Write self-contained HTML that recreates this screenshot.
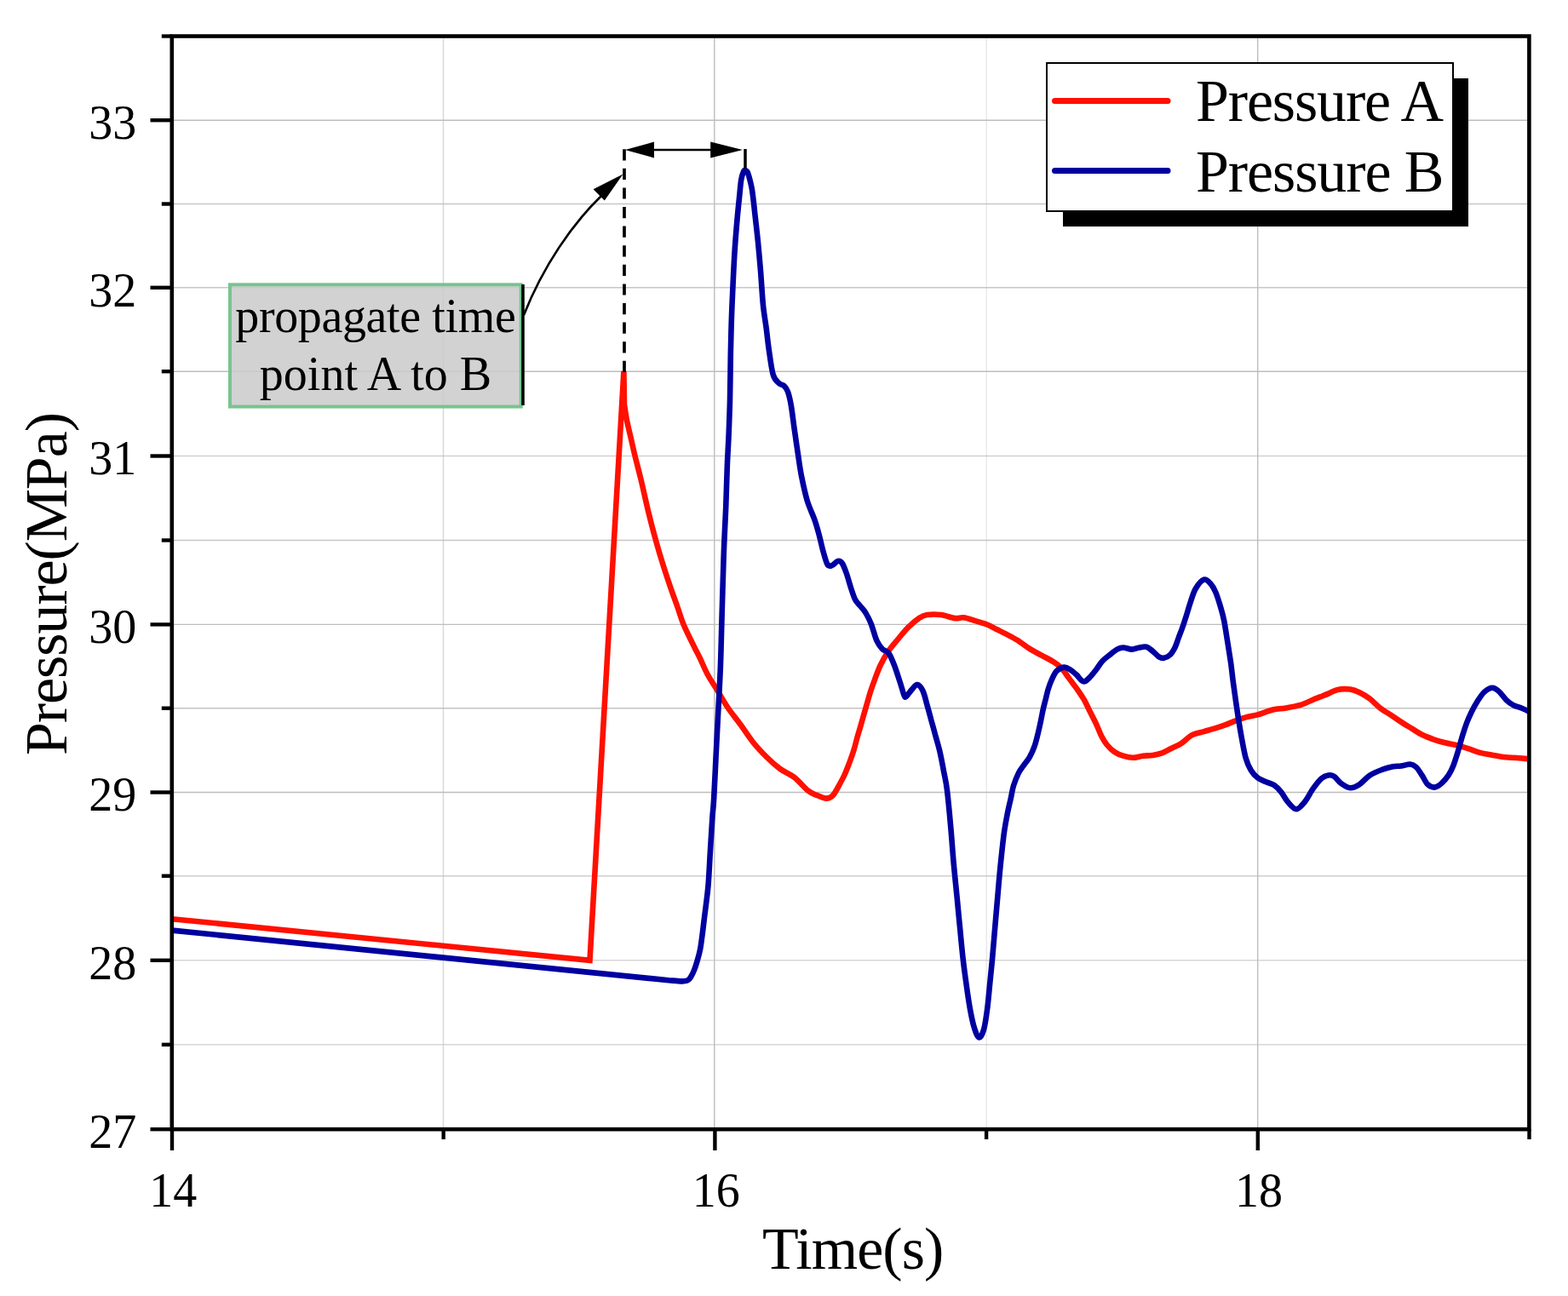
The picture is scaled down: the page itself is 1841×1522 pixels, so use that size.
<!DOCTYPE html><html><head><meta charset="utf-8"><title>Pressure chart</title><style>html,body{margin:0;padding:0;background:#fff;width:1841px;height:1522px;overflow:hidden}svg{display:block}</style></head><body>
<svg width="1841" height="1522" viewBox="0 0 1841 1522" font-family="'Liberation Serif','Times New Roman',serif">
<defs><clipPath id="plot"><rect x="202" y="42.5" width="1593.5" height="1284"/></clipPath></defs>
<rect width="1841" height="1522" fill="#fff"/>
<g stroke="#BDBDBD" stroke-width="1.4" fill="none"><line x1="204" x2="1793" y1="1226.8" y2="1226.8" stroke-opacity="0.60"/><line x1="204" x2="1793" y1="1127.8" y2="1127.8" stroke-opacity="0.60"/><line x1="204" x2="1793" y1="1028.7" y2="1028.7" stroke-opacity="0.75"/><line x1="204" x2="1793" y1="930.5" y2="930.5" stroke-opacity="1.00"/><line x1="204" x2="1793" y1="831.7" y2="831.7" stroke-opacity="0.90"/><line x1="204" x2="1793" y1="733.4" y2="733.4" stroke-opacity="1.00"/><line x1="204" x2="1793" y1="634.5" y2="634.5" stroke-opacity="0.85"/><line x1="204" x2="1793" y1="535.5" y2="535.5" stroke-opacity="0.70"/><line x1="204" x2="1793" y1="436.2" y2="436.2" stroke-opacity="1.00"/><line x1="204" x2="1793" y1="337.8" y2="337.8" stroke-opacity="0.85"/><line x1="204" x2="1793" y1="239.5" y2="239.5" stroke-opacity="0.85"/><line x1="204" x2="1793" y1="141.2" y2="141.2" stroke-opacity="1.00"/><line y1="45" y2="1324" x1="520.5" x2="520.5" stroke-opacity="0.60"/><line y1="45" y2="1324" x1="838.8" x2="838.8" stroke-opacity="1.00"/><line y1="45" y2="1324" x1="1158.3" x2="1158.3" stroke-opacity="0.35"/><line y1="45" y2="1324" x1="1476.7" x2="1476.7" stroke-opacity="1.00"/></g>
<rect x="270" y="334.3" width="341.8" height="143.3" fill="#CACACA" fill-opacity="0.85" stroke="#78C48F" stroke-width="4"/>
<line x1="614" y1="334" x2="614" y2="476" stroke="#000" stroke-width="3.6"/>
<text x="441" y="390.4" font-size="56" text-anchor="middle" textLength="329.5" lengthAdjust="spacing">propagate time</text>
<text x="441" y="458.3" font-size="56" text-anchor="middle">point A to B</text>
<g clip-path="url(#plot)" fill="none" stroke-width="6.6" stroke-linejoin="miter" stroke-miterlimit="4">
<path d="M202,1079.2 L692.5,1127.8 L732.4,436 L733.0,475.0 C733.5,478.2 734.9,488.1 736.1,494.2 C737.3,500.2 738.4,504.5 740.0,511.3 C741.6,518.1 743.4,526.7 745.5,535.2 C747.6,543.8 749.8,551.8 752.4,562.6 C755.0,573.4 758.1,588.0 761.0,600.0 C763.9,612.0 767.1,624.2 770.0,634.7 C772.9,645.2 775.2,653.0 778.4,663.0 C781.5,673.0 786.0,686.3 788.9,694.6 C791.8,702.9 793.2,706.5 795.5,713.0 C797.8,719.5 799.5,726.0 802.6,733.5 C805.7,741.0 811.0,751.2 814.1,757.7 C817.2,764.2 818.7,766.6 821.5,772.3 C824.3,778.0 827.4,785.9 830.7,792.0 C834.0,798.1 837.2,802.6 841.2,809.1 C845.2,815.6 849.8,824.0 854.5,831.0 C859.2,838.0 864.6,844.2 869.5,851.0 C874.4,857.8 879.0,865.2 884.0,871.5 C889.0,877.8 894.2,883.2 899.5,888.5 C904.8,893.8 910.5,898.9 916.0,903.0 C921.5,907.1 927.1,908.6 932.6,912.9 C938.1,917.2 944.5,925.2 948.9,928.7 C953.3,932.2 955.8,932.5 959.3,934.0 C962.8,935.5 966.9,937.6 970.0,937.6 C973.1,937.6 975.2,937.1 978.0,934.0 C980.8,930.9 984.6,923.2 986.9,919.0 C989.2,914.8 990.2,913.1 992.0,909.0 C993.8,904.9 996.0,899.1 997.8,894.4 C999.5,889.7 1001.1,885.4 1002.5,880.8 C1003.9,876.2 1005.0,871.4 1006.2,867.0 C1007.4,862.6 1008.2,860.3 1009.9,854.5 C1011.6,848.7 1014.3,838.9 1016.3,832.0 C1018.3,825.1 1020.0,818.9 1021.8,813.1 C1023.6,807.3 1025.3,802.6 1027.3,797.3 C1029.3,792.0 1031.1,786.8 1033.6,781.5 C1036.1,776.2 1038.8,771.0 1042.3,765.8 C1045.8,760.5 1050.9,754.8 1054.9,750.0 C1058.9,745.2 1062.1,740.8 1066.2,736.8 C1070.3,732.8 1075.7,728.3 1079.4,725.8 C1083.1,723.3 1084.2,722.6 1088.5,722.0 C1092.8,721.4 1099.4,721.3 1104.9,722.0 C1110.4,722.7 1117.0,725.6 1121.4,726.1 C1125.8,726.6 1127.1,724.8 1131.2,725.3 C1135.3,725.8 1141.3,728.0 1146.0,729.4 C1150.7,730.8 1155.0,731.9 1159.1,733.5 C1163.2,735.1 1167.0,737.5 1170.6,739.3 C1174.2,741.1 1176.5,742.1 1180.5,744.2 C1184.5,746.3 1189.8,748.8 1194.5,751.8 C1199.2,754.8 1204.1,758.9 1208.9,761.9 C1213.7,764.9 1218.6,767.2 1223.4,769.9 C1228.2,772.5 1234.0,775.3 1237.8,777.8 C1241.6,780.3 1243.6,781.9 1246.5,785.0 C1249.4,788.1 1252.3,792.7 1255.2,796.6 C1258.1,800.5 1260.9,804.1 1263.8,808.2 C1266.7,812.3 1269.8,816.6 1272.5,821.2 C1275.2,825.8 1277.3,830.8 1279.7,835.6 C1282.1,840.4 1284.8,845.4 1287.0,850.1 C1289.2,854.8 1290.9,859.9 1293.0,864.0 C1295.1,868.1 1296.9,871.3 1299.5,874.5 C1302.1,877.7 1305.3,880.8 1308.5,883.0 C1311.7,885.2 1315.2,886.6 1318.8,887.7 C1322.4,888.8 1326.4,889.8 1330.3,889.8 C1334.2,889.8 1338.0,888.2 1341.9,887.7 C1345.8,887.2 1349.7,887.6 1353.5,887.0 C1357.3,886.4 1361.4,885.4 1365.0,884.1 C1368.6,882.8 1371.5,880.8 1375.1,879.0 C1378.7,877.2 1382.6,875.9 1386.7,873.2 C1390.8,870.6 1395.2,865.5 1399.7,863.1 C1404.2,860.8 1408.9,860.4 1413.5,859.1 C1418.1,857.8 1423.0,856.5 1427.3,855.2 C1431.6,853.9 1435.1,852.7 1439.1,851.2 C1443.0,849.7 1447.0,847.8 1451.0,846.3 C1455.0,844.8 1458.5,843.5 1462.8,842.4 C1467.1,841.2 1471.3,840.9 1476.6,839.4 C1481.9,837.9 1488.8,834.8 1494.4,833.5 C1500.0,832.2 1504.5,832.5 1510.1,831.5 C1515.7,830.5 1522.6,829.2 1527.9,827.6 C1533.2,826.0 1538.0,823.2 1541.7,821.7 C1545.4,820.2 1547.0,819.6 1550.0,818.4 C1553.0,817.2 1556.1,816.0 1559.5,814.6 C1562.9,813.2 1566.1,810.7 1570.4,809.9 C1574.7,809.1 1581.0,809.0 1585.3,809.6 C1589.6,810.2 1592.3,811.4 1596.2,813.3 C1600.1,815.1 1604.3,817.7 1608.4,820.7 C1612.5,823.8 1616.3,828.3 1620.6,831.6 C1624.9,834.9 1630.1,837.7 1634.2,840.4 C1638.3,843.1 1641.2,845.4 1645.1,847.9 C1648.9,850.4 1653.2,852.9 1657.3,855.4 C1661.4,857.9 1665.2,860.6 1669.5,862.8 C1673.8,864.9 1678.6,866.7 1683.1,868.3 C1687.6,869.9 1692.2,871.2 1696.7,872.3 C1701.2,873.4 1705.7,874.0 1710.2,875.1 C1714.7,876.2 1719.3,877.6 1723.8,879.1 C1728.3,880.6 1732.9,882.6 1737.4,883.9 C1741.9,885.1 1746.0,885.7 1751.0,886.6 C1756.0,887.5 1762.3,888.7 1767.3,889.3 C1772.3,889.9 1776.2,889.6 1780.9,890.0 C1785.6,890.4 1793.1,891.2 1795.5,891.4" stroke="#FF1000"/>
<path d="M202,1092.6 L785.0,1151.2 C786.8,1151.3 793.0,1151.9 796.0,1152.1 C799.0,1152.3 801.1,1152.4 803.0,1152.3 C804.9,1152.2 806.2,1152.1 807.5,1151.3 C808.8,1150.5 809.8,1149.5 811.0,1147.5 C812.2,1145.5 813.7,1142.7 815.0,1139.4 C816.3,1136.1 817.7,1131.6 818.9,1127.5 C820.1,1123.4 821.2,1119.6 822.1,1114.9 C823.0,1110.2 823.6,1105.0 824.4,1099.1 C825.2,1093.2 826.1,1085.3 826.8,1079.4 C827.5,1073.5 828.0,1070.3 828.8,1063.7 C829.6,1057.1 830.6,1050.6 831.5,1040.0 C832.4,1029.4 833.1,1013.3 833.9,1000.0 C834.7,986.7 835.7,970.2 836.4,960.0 C837.1,949.8 837.4,951.0 838.1,939.0 C838.8,927.0 839.8,905.1 840.6,888.0 C841.5,870.9 842.3,853.7 843.2,836.6 C844.1,819.5 845.1,802.5 845.8,785.4 C846.5,768.3 846.8,751.2 847.3,734.0 C847.8,716.8 848.3,697.8 848.8,682.0 C849.3,666.2 849.6,653.5 850.2,639.3 C850.8,625.1 851.6,612.2 852.2,596.6 C852.8,581.0 853.3,559.6 853.9,545.4 C854.5,531.2 855.1,523.8 855.6,511.2 C856.1,498.6 856.6,485.8 857.0,470.0 C857.4,454.2 857.5,432.1 857.8,416.6 C858.1,401.1 858.4,390.3 858.8,377.2 C859.2,364.1 859.8,350.9 860.4,337.8 C861.0,324.7 861.6,311.5 862.4,298.3 C863.2,285.1 864.4,270.4 865.4,258.9 C866.4,247.4 867.5,237.3 868.3,229.3 C869.1,221.3 869.5,215.5 870.3,210.8 C871.1,206.1 872.4,203.0 873.2,201.2 C874.0,199.4 874.5,200.1 875.2,200.2 C875.9,200.2 876.6,200.4 877.3,201.5 C878.0,202.6 878.2,202.8 879.2,206.5 C880.2,210.2 882.0,216.3 883.1,223.4 C884.2,230.5 885.0,238.8 886.1,249.0 C887.2,259.2 888.9,273.0 890.0,284.5 C891.1,296.0 892.0,305.8 893.0,318.0 C894.0,330.2 894.8,346.0 895.9,357.5 C897.0,369.0 898.8,378.1 899.9,387.0 C901.0,395.9 901.5,401.8 902.8,410.7 C904.1,419.6 905.8,433.7 907.8,440.3 C909.8,446.9 912.6,448.1 914.7,450.2 C916.8,452.3 918.9,451.5 920.6,453.1 C922.3,454.7 923.6,456.0 925.0,460.0 C926.4,464.0 927.8,470.0 929.0,477.1 C930.2,484.2 931.2,493.6 932.5,502.7 C933.8,511.8 935.3,522.3 936.7,531.7 C938.1,541.1 939.1,549.6 941.0,559.0 C942.9,568.4 945.2,579.6 947.8,588.1 C950.4,596.6 954.1,603.8 956.4,610.3 C958.7,616.8 959.8,621.0 961.5,627.3 C963.2,633.5 964.9,641.8 966.6,647.8 C968.3,653.8 970.0,660.5 971.7,663.2 C973.4,665.9 974.9,664.7 976.9,664.0 C978.9,663.3 981.7,659.3 983.7,658.9 C985.7,658.5 987.1,659.1 988.8,661.5 C990.5,663.9 992.2,668.7 993.9,673.5 C995.6,678.3 997.4,685.4 999.1,690.5 C1000.8,695.6 1002.2,700.5 1004.0,704.0 C1005.8,707.5 1007.7,708.7 1009.7,711.3 C1011.8,713.9 1014.1,716.0 1016.3,719.6 C1018.5,723.2 1020.6,727.2 1022.8,732.7 C1025.0,738.2 1027.2,747.5 1029.4,752.4 C1031.6,757.3 1033.7,759.7 1036.0,762.2 C1038.3,764.7 1041.1,763.9 1043.5,767.2 C1045.9,770.5 1048.1,776.2 1050.3,782.0 C1052.5,787.8 1055.0,796.0 1056.9,801.7 C1058.8,807.4 1060.3,813.7 1061.5,816.4 C1062.7,819.1 1062.4,819.2 1063.9,818.1 C1065.4,817.0 1068.3,812.2 1070.5,809.9 C1072.7,807.6 1074.8,803.8 1077.0,804.1 C1079.2,804.4 1081.7,807.5 1083.6,811.5 C1085.5,815.5 1086.9,822.1 1088.5,827.9 C1090.1,833.6 1091.8,840.0 1093.4,846.0 C1095.1,852.0 1096.8,858.1 1098.4,864.1 C1100.1,870.1 1101.7,875.0 1103.3,882.1 C1104.9,889.2 1106.8,899.0 1108.2,906.7 C1109.7,914.4 1110.7,917.4 1112.0,928.1 C1113.3,938.8 1115.0,957.0 1116.2,970.9 C1117.5,984.8 1118.3,998.0 1119.5,1011.6 C1120.7,1025.2 1122.3,1040.4 1123.5,1052.3 C1124.7,1064.2 1125.2,1071.0 1126.4,1082.9 C1127.6,1094.8 1129.1,1111.7 1130.4,1123.6 C1131.7,1135.5 1132.9,1143.9 1134.3,1154.1 C1135.7,1164.3 1137.3,1175.8 1138.9,1184.6 C1140.5,1193.4 1142.1,1201.3 1143.9,1207.0 C1145.7,1212.7 1147.6,1218.2 1149.5,1218.5 C1151.4,1218.8 1153.5,1214.7 1155.1,1209.0 C1156.7,1203.3 1158.0,1193.8 1159.2,1184.6 C1160.4,1175.4 1161.3,1164.3 1162.3,1154.1 C1163.3,1143.9 1164.3,1134.8 1165.3,1123.6 C1166.3,1112.4 1167.4,1098.8 1168.4,1086.9 C1169.4,1075.0 1170.4,1063.8 1171.4,1052.3 C1172.4,1040.8 1173.3,1029.6 1174.5,1017.7 C1175.7,1005.8 1177.2,991.3 1178.5,981.1 C1179.8,970.9 1181.3,963.6 1182.6,956.6 C1183.9,949.6 1185.2,944.7 1186.5,939.0 C1187.8,933.3 1188.5,927.6 1190.1,922.4 C1191.7,917.2 1194.0,911.8 1195.9,907.9 C1197.8,904.0 1199.5,902.3 1201.7,899.2 C1203.9,896.1 1206.7,893.0 1208.9,889.1 C1211.1,885.2 1213.0,880.9 1214.7,876.1 C1216.4,871.3 1217.8,865.0 1219.0,860.2 C1220.2,855.4 1220.9,851.8 1221.9,847.2 C1222.9,842.6 1223.8,837.0 1224.8,832.7 C1225.8,828.4 1226.7,825.1 1227.7,821.2 C1228.7,817.4 1229.4,813.5 1230.6,809.6 C1231.8,805.8 1233.2,801.7 1234.9,798.1 C1236.6,794.5 1238.3,790.3 1240.7,787.9 C1243.1,785.5 1246.8,783.8 1249.4,783.6 C1252.1,783.4 1254.2,785.0 1256.6,786.5 C1259.0,788.0 1261.6,790.2 1263.8,792.3 C1266.0,794.3 1267.9,797.5 1269.6,798.8 C1271.3,800.1 1272.3,800.8 1274.0,800.2 C1275.7,799.6 1277.5,797.5 1279.7,795.2 C1281.9,792.9 1284.6,789.6 1287.0,786.5 C1289.4,783.4 1291.5,779.3 1294.2,776.4 C1296.9,773.5 1300.0,771.4 1302.9,769.1 C1305.8,766.8 1308.8,764.0 1311.5,762.6 C1314.2,761.2 1315.9,760.5 1318.8,760.5 C1321.7,760.5 1325.8,762.6 1328.9,762.6 C1332.0,762.6 1334.7,761.0 1337.6,760.5 C1340.5,760.0 1343.5,759.1 1346.2,759.8 C1348.9,760.5 1351.1,762.9 1353.5,764.8 C1355.9,766.7 1358.5,770.0 1360.7,771.3 C1362.9,772.6 1364.3,773.2 1366.5,772.8 C1368.7,772.4 1371.5,771.1 1373.7,769.1 C1375.9,767.1 1377.8,763.9 1379.5,760.5 C1381.2,757.1 1382.3,752.8 1383.8,748.9 C1385.2,745.0 1386.8,741.4 1388.2,737.3 C1389.7,733.2 1390.9,729.3 1392.5,724.3 C1394.1,719.3 1395.8,712.8 1397.7,707.3 C1399.6,701.8 1401.1,695.9 1403.7,691.5 C1406.3,687.1 1410.5,681.7 1413.5,680.7 C1416.5,679.7 1419.1,683.1 1421.4,685.6 C1423.7,688.1 1425.3,690.9 1427.3,695.5 C1429.3,700.1 1431.5,707.6 1433.2,713.2 C1434.9,718.8 1435.9,722.4 1437.2,729.0 C1438.5,735.6 1439.8,744.5 1441.1,752.7 C1442.4,760.9 1443.9,770.1 1445.1,778.3 C1446.2,786.5 1447.0,794.5 1448.0,802.0 C1449.0,809.5 1450.0,816.7 1451.0,823.6 C1452.0,830.5 1452.8,836.2 1453.9,843.4 C1455.1,850.6 1456.4,859.1 1457.9,867.0 C1459.4,874.9 1461.0,884.5 1462.8,890.7 C1464.6,897.0 1466.4,900.7 1468.7,904.5 C1471.0,908.3 1473.6,911.1 1476.6,913.4 C1479.6,915.7 1483.2,916.8 1486.5,918.3 C1489.8,919.8 1493.3,920.2 1496.3,922.2 C1499.2,924.2 1501.6,926.8 1504.2,930.1 C1506.8,933.4 1509.1,938.5 1512.1,941.9 C1515.1,945.2 1518.7,950.2 1522.0,950.2 C1525.3,950.2 1528.5,945.9 1531.8,941.9 C1535.1,937.9 1538.4,930.8 1541.7,926.2 C1545.0,921.6 1548.5,916.9 1551.5,914.3 C1554.5,911.7 1557.0,910.8 1559.5,910.4 C1562.0,910.0 1563.8,910.1 1566.3,911.7 C1568.8,913.3 1571.2,917.6 1574.4,919.9 C1577.6,922.2 1581.7,925.1 1585.3,925.3 C1588.9,925.5 1592.3,923.7 1596.2,921.2 C1600.1,918.7 1603.9,913.3 1608.4,910.4 C1612.9,907.5 1618.8,905.3 1623.3,903.6 C1627.8,901.9 1631.9,900.9 1635.5,900.2 C1639.1,899.5 1641.7,900.0 1645.1,899.5 C1648.5,899.0 1653.0,897.3 1655.9,897.5 C1658.8,897.7 1660.4,898.8 1662.7,900.9 C1665.0,903.0 1667.2,907.0 1669.5,910.4 C1671.8,913.8 1673.8,918.8 1676.3,921.2 C1678.8,923.6 1681.7,924.8 1684.4,924.6 C1687.1,924.4 1689.9,922.3 1692.6,919.9 C1695.3,917.5 1698.4,913.8 1700.7,910.4 C1703.0,907.0 1704.4,904.0 1706.2,899.5 C1708.0,895.0 1709.8,889.1 1711.6,883.2 C1713.4,877.3 1715.2,870.1 1717.0,864.2 C1718.8,858.3 1720.7,852.6 1722.5,847.9 C1724.3,843.1 1725.9,839.8 1727.9,835.7 C1729.9,831.6 1732.2,827.4 1734.7,823.5 C1737.2,819.6 1739.9,815.2 1742.8,812.6 C1745.7,810.0 1749.3,807.8 1752.3,807.8 C1755.2,807.8 1757.8,810.2 1760.5,812.6 C1763.2,815.0 1765.9,819.5 1768.6,822.1 C1771.3,824.7 1773.8,826.6 1776.8,828.2 C1779.8,829.8 1783.1,830.2 1786.3,831.5 C1789.5,832.8 1794.4,835.2 1796.0,836.0" stroke="#0000A0" stroke-linejoin="round"/>
</g>
<line x1="733" y1="175.2" x2="733" y2="437" stroke="#000" stroke-width="3.7" stroke-dasharray="13.2 9.4"/>
<line x1="875" y1="175" x2="875" y2="198" stroke="#000" stroke-width="3.5"/>
<line x1="760" y1="176" x2="840" y2="176" stroke="#000" stroke-width="2.4"/>
<polygon points="733.9,176 768,166.6 768,185.4" fill="#000"/>
<polygon points="871.9,176 834.2,166.6 834.2,185.4" fill="#000"/>
<path d="M615,370 C638,312 672,263 706,230" stroke="#000" stroke-width="2.7" fill="none"/>
<polygon points="731.5,204.5 696.6,222.2 709.8,235.4" fill="#000"/>
<rect x="1248" y="92" width="476" height="174" fill="#000"/>
<rect x="1229" y="74" width="477" height="174" fill="#fff" stroke="#000" stroke-width="2"/>
<line x1="1238.5" y1="118.5" x2="1371" y2="118.5" stroke="#FF1000" stroke-width="7" stroke-linecap="round"/>
<line x1="1238.5" y1="200.5" x2="1371" y2="200.5" stroke="#0000A0" stroke-width="7" stroke-linecap="round"/>
<text x="1404" y="141.7" font-size="70" textLength="291" lengthAdjust="spacing">Pressure A</text>
<text x="1404" y="224.6" font-size="70" textLength="291.5" lengthAdjust="spacing">Pressure B</text>
<rect x="201.8" y="42.5" width="1593.6" height="1283.7" fill="none" stroke="#000" stroke-width="4.6"/>
<g stroke="#000" stroke-width="4.4"><line x1="176.5" x2="202" y1="1326.2" y2="1326.2"/><line x1="189.8" x2="202" y1="1226.8" y2="1226.8"/><line x1="176.5" x2="202" y1="1127.8" y2="1127.8"/><line x1="189.8" x2="202" y1="1028.7" y2="1028.7"/><line x1="176.5" x2="202" y1="930.5" y2="930.5"/><line x1="189.8" x2="202" y1="831.7" y2="831.7"/><line x1="176.5" x2="202" y1="733.4" y2="733.4"/><line x1="189.8" x2="202" y1="634.5" y2="634.5"/><line x1="176.5" x2="202" y1="535.5" y2="535.5"/><line x1="189.8" x2="202" y1="436.2" y2="436.2"/><line x1="176.5" x2="202" y1="337.8" y2="337.8"/><line x1="189.8" x2="202" y1="239.5" y2="239.5"/><line x1="176.5" x2="202" y1="141.2" y2="141.2"/><line x1="189.8" x2="202" y1="42.5" y2="42.5"/><line y1="1326" y2="1351" x1="202.0" x2="202.0"/><line y1="1326" y2="1338" x1="520.7" x2="520.7"/><line y1="1326" y2="1351" x1="839.4" x2="839.4"/><line y1="1326" y2="1338" x1="1158.1" x2="1158.1"/><line y1="1326" y2="1351" x1="1476.8" x2="1476.8"/><line y1="1326" y2="1338" x1="1795.5" x2="1795.5"/></g>
<text x="132.3" y="1348.1" font-size="56" text-anchor="middle">27</text>
<text x="132.3" y="1149.7" font-size="56" text-anchor="middle">28</text>
<text x="132.3" y="952.4" font-size="56" text-anchor="middle">29</text>
<text x="132.3" y="755.3" font-size="56" text-anchor="middle">30</text>
<text x="132.3" y="557.4" font-size="56" text-anchor="middle">31</text>
<text x="132.3" y="359.7" font-size="56" text-anchor="middle">32</text>
<text x="132.3" y="163.1" font-size="56" text-anchor="middle">33</text>
<text x="203.3" y="1417" font-size="56" text-anchor="middle">14</text>
<text x="840.7" y="1417" font-size="56" text-anchor="middle">16</text>
<text x="1478.1" y="1417" font-size="56" text-anchor="middle">18</text>
<text x="1001.6" y="1490" font-size="70" text-anchor="middle" textLength="213.4" lengthAdjust="spacing">Time(s)</text>
<text transform="translate(77.7,685.5) rotate(-90)" x="0" y="0" font-size="70" text-anchor="middle" textLength="403" lengthAdjust="spacing">Pressure(MPa)</text>
</svg></body></html>
